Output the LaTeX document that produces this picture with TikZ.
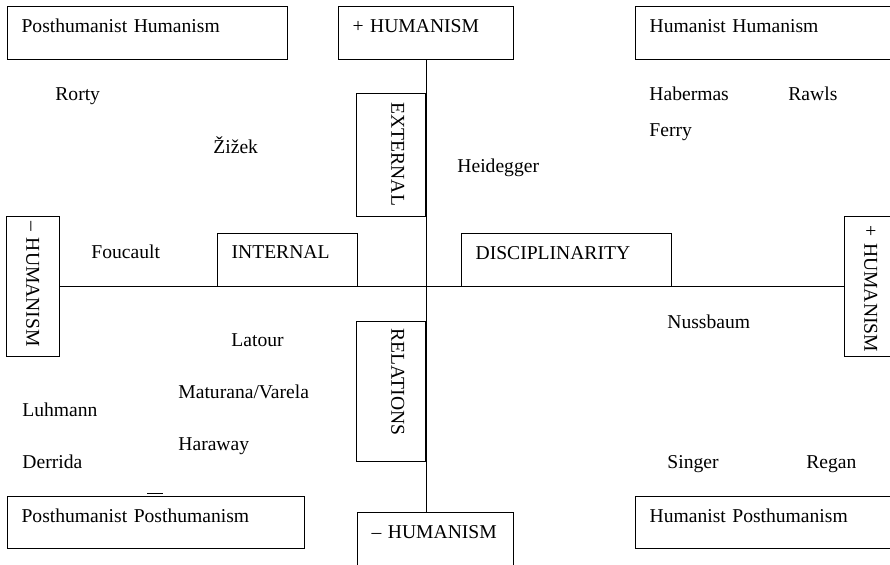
\documentclass[tikz,border=0pt]{standalone}
\usepackage{fontspec}
\setmainfont{Liberation Serif}
\begin{document}
\begin{tikzpicture}[x=0.5pt,y=-0.5pt,
  font=\fontsize{9.8}{12}\selectfont,
  box/.style={draw,line width=0.6pt,anchor=north west,inner xsep=7pt,inner ysep=0pt,align=left,text height=13pt,text depth=13.5pt},
  vbox/.style={box,rotate=-90,text height=17pt,text depth=17.5pt},
  person/.style={inner sep=0pt,anchor=base west}]
\useasboundingbox (0,0) rectangle (890,564);
\node[box,text width=126pt] (phh) at (7,6) {Posthumanist Humanism};
\node[box,text width=73.5pt] (plus) at (338,6) {+ HUMANISM};
\node[box,text width=126pt] (hh) at (635,6) {Humanist Humanism};
\node[vbox,inner xsep=4.5pt,text width=52.5pt] (ext) at (426,93) {EXTERNAL};
\node[box,text width=56pt,text height=12.5pt,text depth=14pt] (int) at (217,233) {INTERNAL};
\node[box,text width=91pt] (disc) at (461,233) {DISCIPLINARITY};
\node[vbox,inner xsep=2.5pt,text width=65pt,text height=16.5pt,text depth=10pt] (minl) at (60,216) {\mbox{-- HUMANISM}};
\node[vbox,inner xsep=2.5pt,text width=65pt,text height=16.5pt,text depth=10pt] (plr) at (898,216) {\hspace*{2pt}\mbox{+ HUMANISM}};
\node[vbox,inner xsep=3.5pt,text width=63pt] (rel) at (426,321) {RELATIONS};
\node[box,text width=134.5pt,text depth=13pt] (pp) at (7,496) {Posthumanist Posthumanism};
\node[box,text width=64pt] (minb) at (357,512) {-- HUMANISM};
\node[box,text width=126pt,text depth=13pt] (hp) at (635,496) {Humanist Posthumanism};
\draw[line width=0.5pt] (plus.south) -- (plus.south |- minb.north);
\draw[line width=0.5pt] (minl.north) -- (plr.south);
\draw[line width=0.5pt] (147,493) -- (163,493);
\node[person] (rorty) at (55,100) {Rorty};
\node[person] (zizek) at (213,153) {Žižek};
\node[person] (heidegger) at (457,172) {Heidegger};
\node[person] (habermas) at (649,100) {Habermas};
\node[person] (rawls) at (788,100) {Rawls};
\node[person] (ferry) at (649,136) {Ferry};
\node[person] (foucault) at (91,258) {Foucault};
\node[person] (latour) at (231,346) {Latour};
\node[person] (maturana) at (178,398) {Maturana/Varela};
\node[person] (luhmann) at (22,416) {Luhmann};
\node[person] (haraway) at (178,450) {Haraway};
\node[person] (derrida) at (22,468) {Derrida};
\node[person] (nussbaum) at (667,328) {Nussbaum};
\node[person] (singer) at (667,468) {Singer};
\node[person] (regan) at (806,468) {Regan};
\end{tikzpicture}
\end{document}
